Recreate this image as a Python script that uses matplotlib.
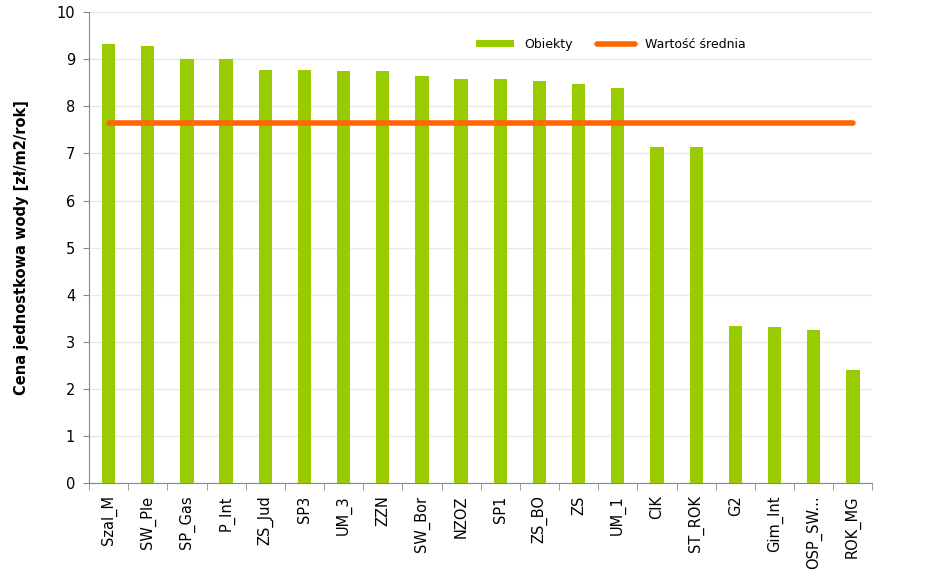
import numpy as np
import matplotlib.pyplot as plt

categories = ["Szal_M", "SW_Ple", "SP_Gas", "P_Int", "ZS_Jud", "SP3", "UM_3", "ZZN",
              "SW_Bor", "NZOZ", "SP1", "ZS_BO", "ZS", "UM_1", "CIK", "ST_ROK",
              "G2", "Gim_Int", "OSP_SW...", "ROK_MG"]
values = [9.33, 9.29, 9.01, 9.01, 8.78, 8.78, 8.76, 8.76, 8.65, 8.59, 8.59, 8.54,
          8.48, 8.39, 7.14, 7.14, 3.33, 3.31, 3.24, 2.41]
mean_value = 7.65

green = "#99CC00"
orange = "#FF6600"

fig = plt.figure(figsize=(9.25, 5.84), dpi=100)
ax = fig.add_axes([0.0962, 0.173, 0.847, 0.806])

x = np.arange(len(categories))
bars = ax.bar(x, values, width=0.34, color=green, label="Obiekty", zorder=2)
line, = ax.plot([x[0], x[-1]], [mean_value, mean_value], color=orange, lw=4,
                solid_capstyle="round", label="Wartość średnia", zorder=3)

ax.set_xlim(-0.5, len(categories) - 0.5)
ax.set_ylim(0, 10)
ax.set_yticks(range(0, 11))
ax.yaxis.grid(True, color="#EAEADF", lw=1, zorder=0)
ax.set_axisbelow(True)

ax.set_xticks(x)
ax.set_xticklabels(categories, rotation=90, fontsize=10.5)
ax.set_xticks(np.arange(-0.5, len(categories)), minor=True)
ax.tick_params(axis="x", which="major", length=0, pad=9)
ax.tick_params(axis="x", which="minor", length=5, color="#888888")
ax.tick_params(axis="y", length=4, color="#888888", labelsize=10.5, pad=6)

for s in ["top", "right"]:
    ax.spines[s].set_visible(False)
for s in ["left", "bottom"]:
    ax.spines[s].set_color("#888888")

ax.set_ylabel("Cena jednostkowa wody [zł/m2/rok]", fontsize=10.5, fontweight="bold", labelpad=20)

leg = ax.legend([bars, line], ["Obiekty", "Wartość średnia"], loc="upper left",
                bbox_to_anchor=(0.48, 0.97), ncol=2, frameon=True,
                fontsize=9, handlelength=3, handleheight=0.5, columnspacing=2,
                fancybox=False, borderpad=0.4)
leg.get_frame().set_edgecolor("white")
leg.get_frame().set_facecolor("white")
leg.get_frame().set_alpha(1)

fig.savefig("out.png", dpi=100)
